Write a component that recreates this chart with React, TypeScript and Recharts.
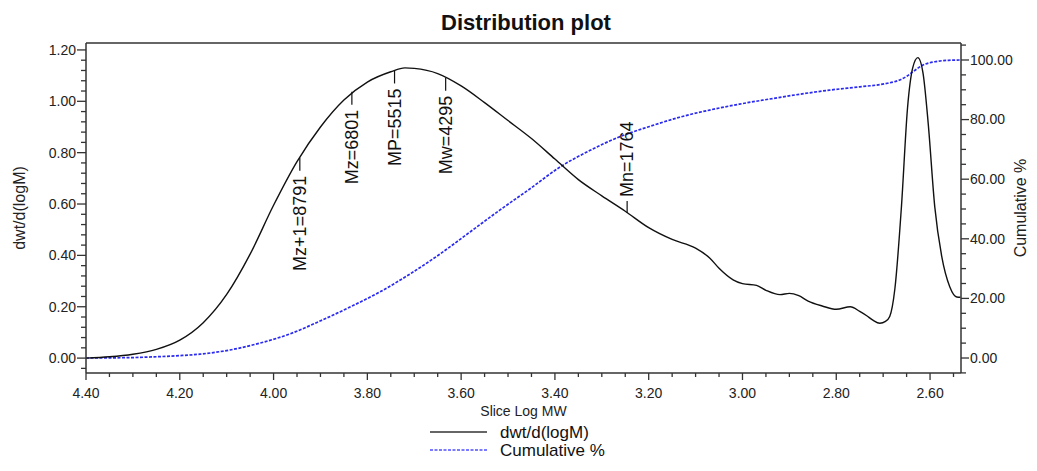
import React from "react";
import { LineChart, Line, XAxis, YAxis, ReferenceDot, ReferenceLine } from "recharts";

const FONT = '"Liberation Sans", Arial, Helvetica, sans-serif';

// dwt/d(logM) curve
const dwtLogM = [
  4.4, 4.35, 4.3, 4.25, 4.2, 4.15, 4.1, 4.05, 4.0, 3.95, 3.9, 3.85, 3.8, 3.75,
  3.72, 3.7, 3.65, 3.6, 3.55, 3.5, 3.45, 3.4, 3.35, 3.3, 3.25, 3.2, 3.15, 3.1,
  3.07, 3.05, 3.02, 3.0, 2.97, 2.95, 2.92, 2.9, 2.88, 2.86, 2.83, 2.8, 2.77,
  2.75, 2.735, 2.722, 2.707, 2.695, 2.686, 2.675, 2.661, 2.648, 2.637, 2.626,
  2.615, 2.604, 2.59, 2.575, 2.558, 2.543, 2.535,
];
const dwtValues = [
  0.0, 0.005, 0.015, 0.034, 0.07, 0.138, 0.248, 0.405, 0.595, 0.765, 0.9, 1.005,
  1.075, 1.115, 1.13, 1.128, 1.108, 1.06, 0.995, 0.925, 0.855, 0.775, 0.695,
  0.632, 0.572, 0.508, 0.462, 0.428, 0.39, 0.35, 0.305, 0.29, 0.283, 0.264,
  0.247, 0.252, 0.243, 0.222, 0.203, 0.19, 0.2, 0.182, 0.165, 0.148, 0.136,
  0.143, 0.162, 0.27, 0.59, 0.975, 1.13, 1.17, 1.11, 0.915, 0.59, 0.395, 0.278,
  0.238, 0.237,
];

// cumulative %
const cumLogM = [
  4.4, 4.3, 4.264, 4.2, 4.157, 4.093, 4.029, 3.965, 3.901, 3.837, 3.773, 3.709,
  3.645, 3.581, 3.517, 3.453, 3.39, 3.326, 3.261, 3.198, 3.134, 3.07, 3.006,
  2.942, 2.878, 2.814, 2.75, 2.697, 2.665, 2.65, 2.637, 2.615, 2.59, 2.56, 2.535,
];
const cumValues = [
  0, 0.15, 0.34, 0.8, 1.3, 2.7, 5.0, 8.1, 12.4, 17.1, 22.2, 28.2, 34.9, 42.3,
  49.7, 56.8, 64.0, 69.6, 74.3, 77.7, 80.8, 83.2, 85.2, 86.9, 88.5, 89.9, 91.0,
  92.0, 93.3, 94.5, 96.0, 98.3, 99.4, 99.9, 100,
];

const xMajorTicks = [4.4, 4.2, 4.0, 3.8, 3.6, 3.4, 3.2, 3.0, 2.8, 2.6];
const leftMajorTicks = [0, 0.2, 0.4, 0.6, 0.8, 1.0, 1.2];
const rightMajorTicks = [0, 20, 40, 60, 80, 100];

const markerNames = ["Mz+1=8791", "Mz=6801", "MP=5515", "Mw=4295", "Mn=1764"];
const markerLogM = [3.944, 3.833, 3.742, 3.633, 3.246];
const markerHeights = [0.78, 1.037, 1.12, 1.092, 0.565];
const markerAbove = [false, false, false, false, true];

const X_DOMAIN: [number, number] = [2.534, 4.4];
const LEFT_DOMAIN: [number, number] = [-0.058, 1.227];
const RIGHT_DOMAIN: [number, number] = [-5.03, 105.7];

const dwtData = dwtLogM.map((x, i) => ({ x, y: dwtValues[i] }));
const cumData = cumLogM.map((x, i) => ({ x, y: cumValues[i] }));
const markers = markerNames.map((name, i) => ({
  name,
  x: markerLogM[i],
  y: markerHeights[i],
  above: markerAbove[i],
}));

// majors plus evenly split minor ticks between them
const withMinor = (majors: number[], parts: number, lo: number, hi: number) => {
  const sorted = [...majors].sort((a, b) => a - b);
  const step = (sorted[1] - sorted[0]) / parts;
  const out: number[] = [];
  for (let v = sorted[0] - step * parts; v <= hi + 1e-9; v += step) {
    const r = Math.round(v * 1000) / 1000;
    if (r >= lo - 1e-9) out.push(r);
  }
  return out;
};

const xTicks = withMinor(xMajorTicks, 4, X_DOMAIN[0], X_DOMAIN[1]);
const leftTicks = withMinor(leftMajorTicks, 5, LEFT_DOMAIN[0], LEFT_DOMAIN[1]);
const rightTicks = withMinor(rightMajorTicks, 4, RIGHT_DOMAIN[0], RIGHT_DOMAIN[1]);

const isMajor = (v: number, majors: number[]) =>
  majors.some((m) => Math.abs(m - v) < 1e-6);

const AXIS = "#333";
const TICK_TEXT = "#222";

const BottomTick = (props: any) => {
  const { x, y, payload } = props;
  const major = isMajor(payload.value, xMajorTicks);
  return (
    <g>
      <line x1={x} y1={y} x2={x} y2={y + (major ? 7 : 4)} stroke={AXIS} strokeWidth={1.3} />
      {major && (
        <text x={x} y={y + 25} textAnchor="middle" fontSize={14} fill={TICK_TEXT} fontFamily={FONT}>
          {payload.value.toFixed(2)}
        </text>
      )}
    </g>
  );
};

const LeftTick = (props: any) => {
  const { x, y, payload } = props;
  const major = isMajor(payload.value, leftMajorTicks);
  return (
    <g>
      <line x1={x} y1={y} x2={x - (major ? 9 : 5)} y2={y} stroke={AXIS} strokeWidth={1.3} />
      {major && (
        <text x={x - 10} y={y} dy="0.35em" textAnchor="end" fontSize={14} fill={TICK_TEXT} fontFamily={FONT}>
          {payload.value.toFixed(2)}
        </text>
      )}
    </g>
  );
};

const RightTick = (props: any) => {
  const { x, y, payload } = props;
  const major = isMajor(payload.value, rightMajorTicks);
  return (
    <g>
      <line x1={x} y1={y} x2={x + (major ? 8 : 5)} y2={y} stroke={AXIS} strokeWidth={1.3} />
      {major && (
        <text x={x + 9} y={y} dy="0.35em" textAnchor="start" fontSize={14} fill={TICK_TEXT} fontFamily={FONT}>
          {payload.value.toFixed(2)}
        </text>
      )}
    </g>
  );
};

const Marker = ({ cx, cy, name, above }: { cx: number; cy: number; name: string; above: boolean }) => {
  const lineEnd = above ? cy - 12 : cy + 13;
  const textAt = above ? cy - 16 : cy + 18;
  return (
    <g>
      <line x1={cx} y1={cy} x2={cx} y2={lineEnd} stroke="#111" strokeWidth={1.2} />
      <text
        x={cx}
        y={textAt}
        dy="0.35em"
        transform={`rotate(-90 ${cx} ${textAt})`}
        textAnchor={above ? "start" : "end"}
        fontSize={18}
        fill="#111"
        fontFamily={FONT}
      >
        {name}
      </text>
    </g>
  );
};

const W = 1021;
const H = 455;

export default function App() {
  return (
    <div style={{ position: "relative", width: W, height: H }}>
      <LineChart width={W} height={H} margin={{ top: 35, right: 0, bottom: 0, left: 0 }}>
        <XAxis
          type="number"
          dataKey="x"
          domain={X_DOMAIN}
          reversed
          allowDataOverflow
          ticks={xTicks}
          interval={0}
          tickSize={0}
          tickMargin={0}
          tickLine={false}
          tick={<BottomTick />}
          height={90}
          axisLine={{ stroke: AXIS, strokeWidth: 1.5 }}
          label={{
            value: "Slice Log MW",
            position: "insideTop",
            offset: 33,
            fontSize: 14,
            fill: TICK_TEXT,
            fontFamily: FONT,
          }}
        />
        <YAxis
          yAxisId="left"
          type="number"
          domain={LEFT_DOMAIN}
          allowDataOverflow
          ticks={leftTicks}
          interval={0}
          tickSize={0}
          tickMargin={0}
          tickLine={false}
          tick={<LeftTick />}
          width={78}
          axisLine={{ stroke: AXIS, strokeWidth: 1.5 }}
        />
        <YAxis
          yAxisId="right"
          orientation="right"
          type="number"
          domain={RIGHT_DOMAIN}
          allowDataOverflow
          ticks={rightTicks}
          interval={0}
          tickSize={0}
          tickMargin={0}
          tickLine={false}
          tick={<RightTick />}
          width={68}
          axisLine={{ stroke: AXIS, strokeWidth: 1.5 }}
        />
        <ReferenceLine yAxisId="left" y={LEFT_DOMAIN[1]} stroke={AXIS} strokeWidth={1.5} />
        <Line
          yAxisId="right"
          data={cumData}
          dataKey="y"
          type="monotone"
          stroke="#2a2af0"
          strokeWidth={1.7}
          strokeDasharray="3 1.5"
          dot={false}
          activeDot={false}
          isAnimationActive={false}
        />
        <Line
          yAxisId="left"
          data={dwtData}
          dataKey="y"
          type="monotone"
          stroke="#111"
          strokeWidth={1.4}
          dot={false}
          activeDot={false}
          isAnimationActive={false}
        />
        {markers.map((m) => (
          <ReferenceDot
            key={m.name}
            yAxisId="left"
            x={m.x}
            y={m.y}
            r={0}
            ifOverflow="visible"
            shape={(p: any) => <Marker cx={p.cx} cy={p.cy} name={m.name} above={m.above} />}
          />
        ))}
      </LineChart>
      <svg
        width={W}
        height={H}
        style={{ position: "absolute", left: 0, top: 0, pointerEvents: "none" }}
      >
        <text x={518} y={22} textAnchor="middle" fontSize={22} fontWeight="bold" fill="#111" fontFamily={FONT}>
          Distribution plot
        </text>
        <text
          x={11}
          y={200}
          dy="0.35em"
          transform="rotate(-90 11 200)"
          textAnchor="middle"
          fontSize={16}
          fill={TICK_TEXT}
          fontFamily={FONT}
        >
          dwt/d(logM)
        </text>
        <text
          x={1012}
          y={200}
          dy="0.35em"
          transform="rotate(-90 1012 200)"
          textAnchor="middle"
          fontSize={16}
          fill={TICK_TEXT}
          fontFamily={FONT}
        >
          Cumulative %
        </text>
        <line x1={422} y1={424} x2={479} y2={424} stroke="#333" strokeWidth={1.6} />
        <text x={492} y={424} dy="0.35em" fontSize={17} fill="#111" fontFamily={FONT}>
          dwt/d(logM)
        </text>
        <line x1={422} y1={442} x2={479} y2={442} stroke="#5050ff" strokeWidth={1.6} strokeDasharray="3 1.5" />
        <text x={492} y={442} dy="0.35em" fontSize={17} fill="#111" fontFamily={FONT}>
          Cumulative %
        </text>
      </svg>
    </div>
  );
}
